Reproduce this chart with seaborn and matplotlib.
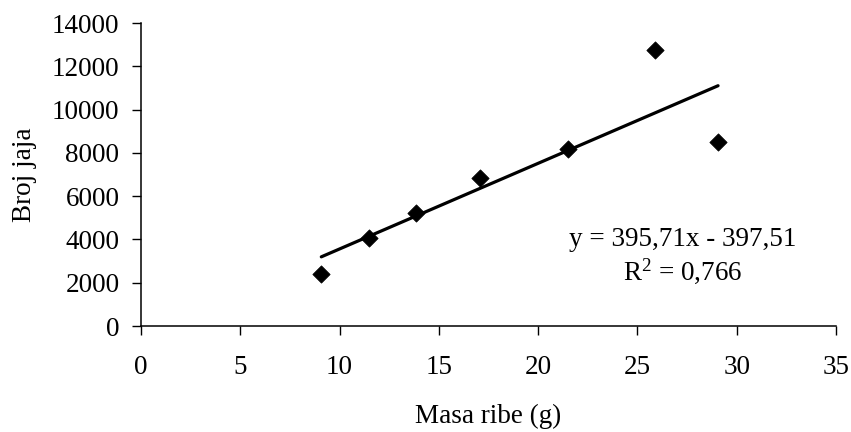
import matplotlib
matplotlib.use("Agg")
import matplotlib.pyplot as plt
import seaborn as sns
import numpy as np
import pandas as pd

# Data
masa_ribe = [9.08, 11.46, 13.84, 17.05, 21.48, 25.87, 29.06]
broj_jaja = [2405, 4086, 5211, 6830, 8171, 12735, 8495]
trend_slope = 395.71
trend_intercept = -397.51
eq_text = "y = 395,71x - 397,51"
r2_text = r"R$^{\mathrm{2}}$ = 0,766"
x_ticks = [0, 5, 10, 15, 20, 25, 30, 35]
y_ticks = [0, 2000, 4000, 6000, 8000, 10000, 12000, 14000]
x_label = "Masa ribe (g)"
y_label = "Broj jaja"

sns.set_theme(style="white")
plt.rcParams["font.family"] = ["Liberation Serif", "DejaVu Serif"]
plt.rcParams["mathtext.fontset"] = "custom"
plt.rcParams["mathtext.rm"] = "Liberation Serif"
plt.rcParams["mathtext.it"] = "Liberation Serif:italic"
plt.rcParams["mathtext.bf"] = "Liberation Serif:bold"

FS = 19.5

df = pd.DataFrame({"x": masa_ribe, "y": broj_jaja})
xt = np.array([min(masa_ribe), max(masa_ribe)])
trend = pd.DataFrame({"x": xt, "y": trend_slope * xt + trend_intercept})

fig = plt.figure(figsize=(8.51, 4.32), dpi=100)
ax = fig.add_axes([141 / 851, 1 - 326 / 432, 695 / 851, 303 / 432])

sns.lineplot(data=trend, x="x", y="y", ax=ax, color="black", linewidth=2.3)
sns.scatterplot(data=df, x="x", y="y", ax=ax, marker="D", s=78,
                color="black", edgecolor="black", linewidth=0.5, zorder=3)

ax.set_xlim(0, 35)
ax.set_ylim(0, 14000)
ax.set_xticks(x_ticks)
ax.set_yticks(y_ticks)
ax.set_xticklabels([str(v) for v in x_ticks])
ax.set_yticklabels([str(v) for v in y_ticks])

for side in ["top", "right"]:
    ax.spines[side].set_visible(False)
for side in ["left", "bottom"]:
    ax.spines[side].set_color("black")
    ax.spines[side].set_linewidth(1.1)

ax.tick_params(axis="both", direction="out", length=6.5, width=1.0,
               color="black", labelsize=FS, labelcolor="black")
ax.tick_params(axis="y", pad=9, left=True)
ax.tick_params(axis="x", pad=14.5, bottom=True)

ax.set_xlabel(x_label, fontsize=FS, color="black", labelpad=17)
ax.set_ylabel(y_label, fontsize=FS, color="black", labelpad=11)

ax.text(0.78, 0.264, eq_text, transform=ax.transAxes, ha="center",
        va="baseline", fontsize=FS, color="black")
ax.text(0.78, 0.152, r2_text, transform=ax.transAxes, ha="center",
        va="baseline", fontsize=FS, color="black")

ax.set_facecolor("white")
fig.patch.set_facecolor("white")
fig.savefig("out.png", dpi=100, facecolor="white")
